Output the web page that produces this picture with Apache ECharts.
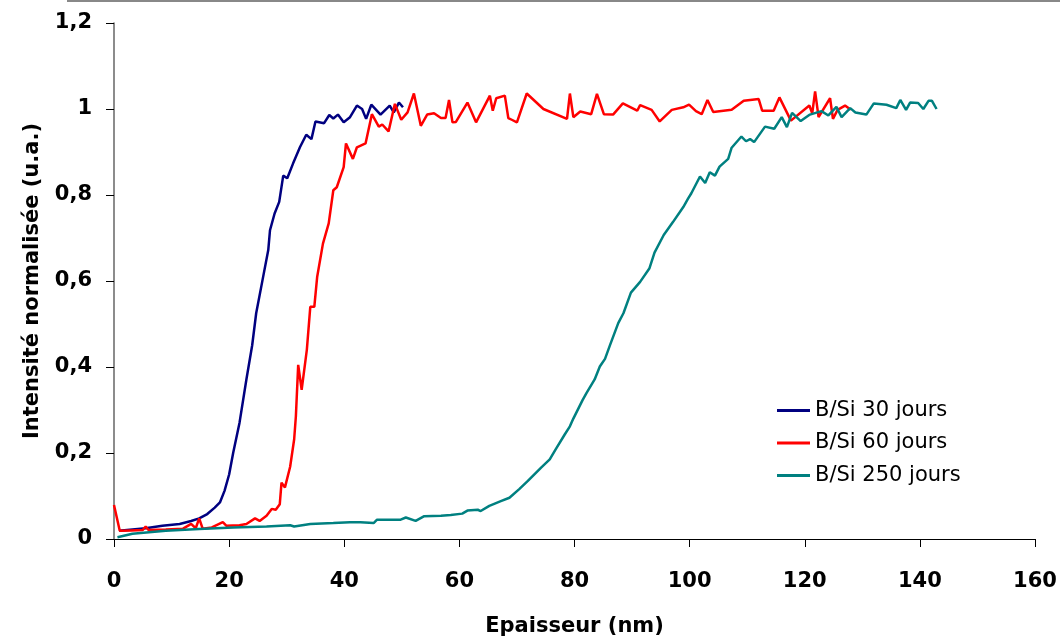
<!DOCTYPE html>
<html>
<head>
<meta charset="utf-8">
<script src="https://cdn.jsdelivr.net/npm/echarts@6/dist/echarts.min.js"></script>
<style>
  html, body { margin: 0; padding: 0; background: #fff; }
  #chart { width: 1060px; height: 642px; }
</style>
</head>
<body>
<div id="chart"></div>
<script>
// noms des courbes
var names = ['B/Si 30 jours', 'B/Si 60 jours', 'B/Si 250 jours']
var colors = ['#000080', '#ff0000', '#008080']

// [epaisseur (nm), intensite normalisee]
var jours30 = [
  [0.9, 0.019], [5.5, 0.025], [8.4, 0.031], [11.4, 0.035], [13.4, 0.042], [14.8, 0.048],
  [16.2, 0.058], [17.5, 0.073], [18.4, 0.085], [19.2, 0.112], [20.0, 0.15], [20.7, 0.2],
  [21.8, 0.27], [23.0, 0.371], [24.0, 0.45], [24.7, 0.525], [25.8, 0.602], [26.8, 0.672],
  [27.1, 0.718], [27.9, 0.757], [28.7, 0.784], [29.4, 0.845], [30.1, 0.839], [31.1, 0.873],
  [32.3, 0.911], [33.4, 0.94], [34.3, 0.93], [35.0, 0.971], [36.5, 0.967], [37.4, 0.986],
  [38.1, 0.978], [38.9, 0.987], [39.9, 0.969], [41.0, 0.981], [42.2, 1.008], [43.1, 1.0],
  [43.8, 0.977], [44.7, 1.01], [46.3, 0.987], [47.9, 1.008], [48.6, 0.992], [49.5, 1.015],
  [50.2, 1.004]
]
var jours60 = [
  [0.0, 0.079], [1.0, 0.019], [3.0, 0.02], [5.0, 0.021], [5.5, 0.029], [6.0, 0.021],
  [9.0, 0.022], [12.0, 0.024], [13.4, 0.035], [14.2, 0.025], [14.8, 0.048], [15.4, 0.024],
  [17.0, 0.027], [18.9, 0.039], [19.5, 0.031], [21.8, 0.032], [23.0, 0.035], [24.5, 0.048],
  [25.3, 0.042], [26.5, 0.054], [27.4, 0.07], [28.1, 0.068], [28.8, 0.081], [29.1, 0.131],
  [29.7, 0.12], [30.6, 0.168], [31.3, 0.232], [31.6, 0.286], [32.0, 0.405], [32.6, 0.347],
  [33.5, 0.44], [34.1, 0.54], [34.8, 0.54], [35.3, 0.61], [36.3, 0.687], [37.3, 0.734],
  [38.1, 0.811], [38.7, 0.818], [39.9, 0.865], [40.3, 0.92], [41.5, 0.884], [42.2, 0.911],
  [43.7, 0.92], [44.8, 0.988], [46.0, 0.959], [46.6, 0.964], [47.7, 0.948], [48.8, 1.012],
  [49.9, 0.975], [51.0, 0.992], [52.1, 1.036], [53.3, 0.961], [54.4, 0.987], [55.6, 0.99],
  [56.8, 0.979], [57.6, 0.979], [58.2, 1.021], [58.8, 0.969], [59.4, 0.97], [61.4, 1.015],
  [62.9, 0.969], [65.3, 1.031], [65.8, 0.996], [66.4, 1.025], [67.9, 1.031], [68.5, 0.979],
  [69.1, 0.975], [70.0, 0.969], [71.7, 1.036], [74.6, 1.0], [78.7, 0.977], [79.2, 1.036],
  [79.8, 0.981], [81.0, 0.994], [82.9, 0.988], [83.9, 1.035], [85.1, 0.988], [86.7, 0.987],
  [88.4, 1.013], [90.9, 0.996], [91.4, 1.009], [93.4, 0.998], [94.8, 0.971], [96.9, 0.998],
  [98.9, 1.004], [99.9, 1.01], [101.1, 0.995], [102.1, 0.988], [103.1, 1.021], [104.1, 0.993],
  [107.3, 0.998], [109.4, 1.019], [112.0, 1.023], [112.6, 0.996], [114.6, 0.996], [115.6, 1.027],
  [117.6, 0.973], [120.8, 1.008], [121.3, 0.99], [121.8, 1.041], [122.4, 0.981], [124.4, 1.025],
  [124.9, 0.977], [125.7, 0.998], [127.0, 1.008], [128.0, 0.998]
]
var jours250 = [
  [0.6, 0.004], [3.2, 0.012], [9.0, 0.019], [14.8, 0.023], [20.7, 0.027], [26.5, 0.029],
  [30.6, 0.032], [31.3, 0.029], [34.1, 0.035], [38.1, 0.037], [41.0, 0.039], [42.8, 0.039],
  [45.1, 0.037], [45.7, 0.045], [49.8, 0.045], [50.7, 0.05], [52.4, 0.042], [53.9, 0.053],
  [56.8, 0.054], [58.5, 0.056], [60.5, 0.059], [61.4, 0.066], [63.2, 0.068], [63.7, 0.065],
  [65.2, 0.077], [67.2, 0.088], [68.7, 0.096], [70.4, 0.116], [71.9, 0.135], [74.2, 0.166],
  [75.7, 0.185], [76.7, 0.208], [78.3, 0.243], [79.2, 0.262], [79.8, 0.28], [81.4, 0.323],
  [82.1, 0.34], [83.5, 0.371], [84.4, 0.401], [85.3, 0.419], [86.2, 0.452], [87.6, 0.502],
  [88.5, 0.525], [89.8, 0.573], [91.4, 0.598], [93.0, 0.629], [93.9, 0.666], [95.5, 0.707],
  [97.1, 0.737], [98.9, 0.772], [99.7, 0.791], [100.3, 0.804], [101.8, 0.843], [102.7, 0.828],
  [103.5, 0.853], [104.4, 0.845], [105.2, 0.866], [106.7, 0.884], [107.3, 0.91], [109.0, 0.936],
  [109.8, 0.925], [110.5, 0.93], [111.2, 0.923], [113.1, 0.959], [114.7, 0.954], [116.0, 0.981],
  [116.9, 0.958], [117.8, 0.991], [119.3, 0.972], [120.9, 0.987], [122.9, 0.995], [124.1, 0.985],
  [125.5, 1.005], [126.4, 0.981], [127.9, 1.002], [128.8, 0.992], [130.7, 0.987], [132.0, 1.013],
  [134.2, 1.01], [135.9, 1.002], [136.6, 1.021], [137.6, 0.998], [138.3, 1.015], [139.7, 1.014],
  [140.6, 1.0], [141.5, 1.019], [142.1, 1.019], [142.9, 1.0]
]
var allData = [jours30, jours60, jours250]

var police = 'DejaVu Sans'

var myChart = echarts.init(document.getElementById('chart'))
var option = {
  animation: false,
  backgroundColor: '#fff',
  color: colors,
  grid: {
    left: 114,
    right: 25,
    top: 23,
    bottom: 102.5,
  },
  legend: {
    orient: 'vertical',
    left: 772,
    top: 395,
    icon: 'rect',
    itemWidth: 33,
    itemHeight: 3,
    itemGap: 11.5,
    textStyle: {
      fontFamily: police,
      fontSize: 21,
      color: '#000',
    },
    data: names,
  },
  xAxis: {
    type: 'value',
    min: 0,
    max: 160,
    interval: 20,
    name: 'Epaisseur (nm)',
    nameLocation: 'middle',
    nameGap: 77,
    nameTextStyle: { fontFamily: police, fontWeight: 'bold', fontSize: 21, color: '#000' },
    splitLine: { show: false },
    axisLine: { lineStyle: { color: '#000', width: 1 } },
    axisTick: { inside: false, length: 8, lineStyle: { color: '#000' } },
    axisLabel: { margin: 32, fontFamily: police, fontWeight: 'bold', fontSize: 21, color: '#000' },
  },
  yAxis: {
    type: 'value',
    min: 0,
    max: 1.2,
    interval: 0.2,
    name: 'Intensité normalisée (u.a.)',
    nameLocation: 'middle',
    nameGap: 71,
    nameTextStyle: { fontFamily: police, fontWeight: 'bold', fontSize: 21, color: '#000' },
    splitLine: { show: false },
    axisLine: { show: true, lineStyle: { color: '#666', width: 1.5 } },
    axisTick: { show: true, inside: false, length: 8, lineStyle: { color: '#000' } },
    axisLabel: {
      margin: 22,
      fontFamily: police,
      fontWeight: 'bold',
      fontSize: 21,
      color: '#000',
      formatter: function (v) {
        return String(+v.toFixed(1)).replace('.', ',')
      },
    },
  },
  // trait gris en haut
  graphic: [
    {
      type: 'line',
      shape: { x1: 67, y1: 1, x2: 1060, y2: 1 },
      style: { stroke: '#888', lineWidth: 2 },
    },
  ],
  series: names.map(function (n, i) {
    return {
      name: n,
      type: 'line',
      data: allData[i],
      showSymbol: false,
      symbol: 'none',
      lineStyle: { width: 2.5, color: colors[i] },
    }
  }),
}
myChart.setOption(option)
</script>
</body>
</html>
